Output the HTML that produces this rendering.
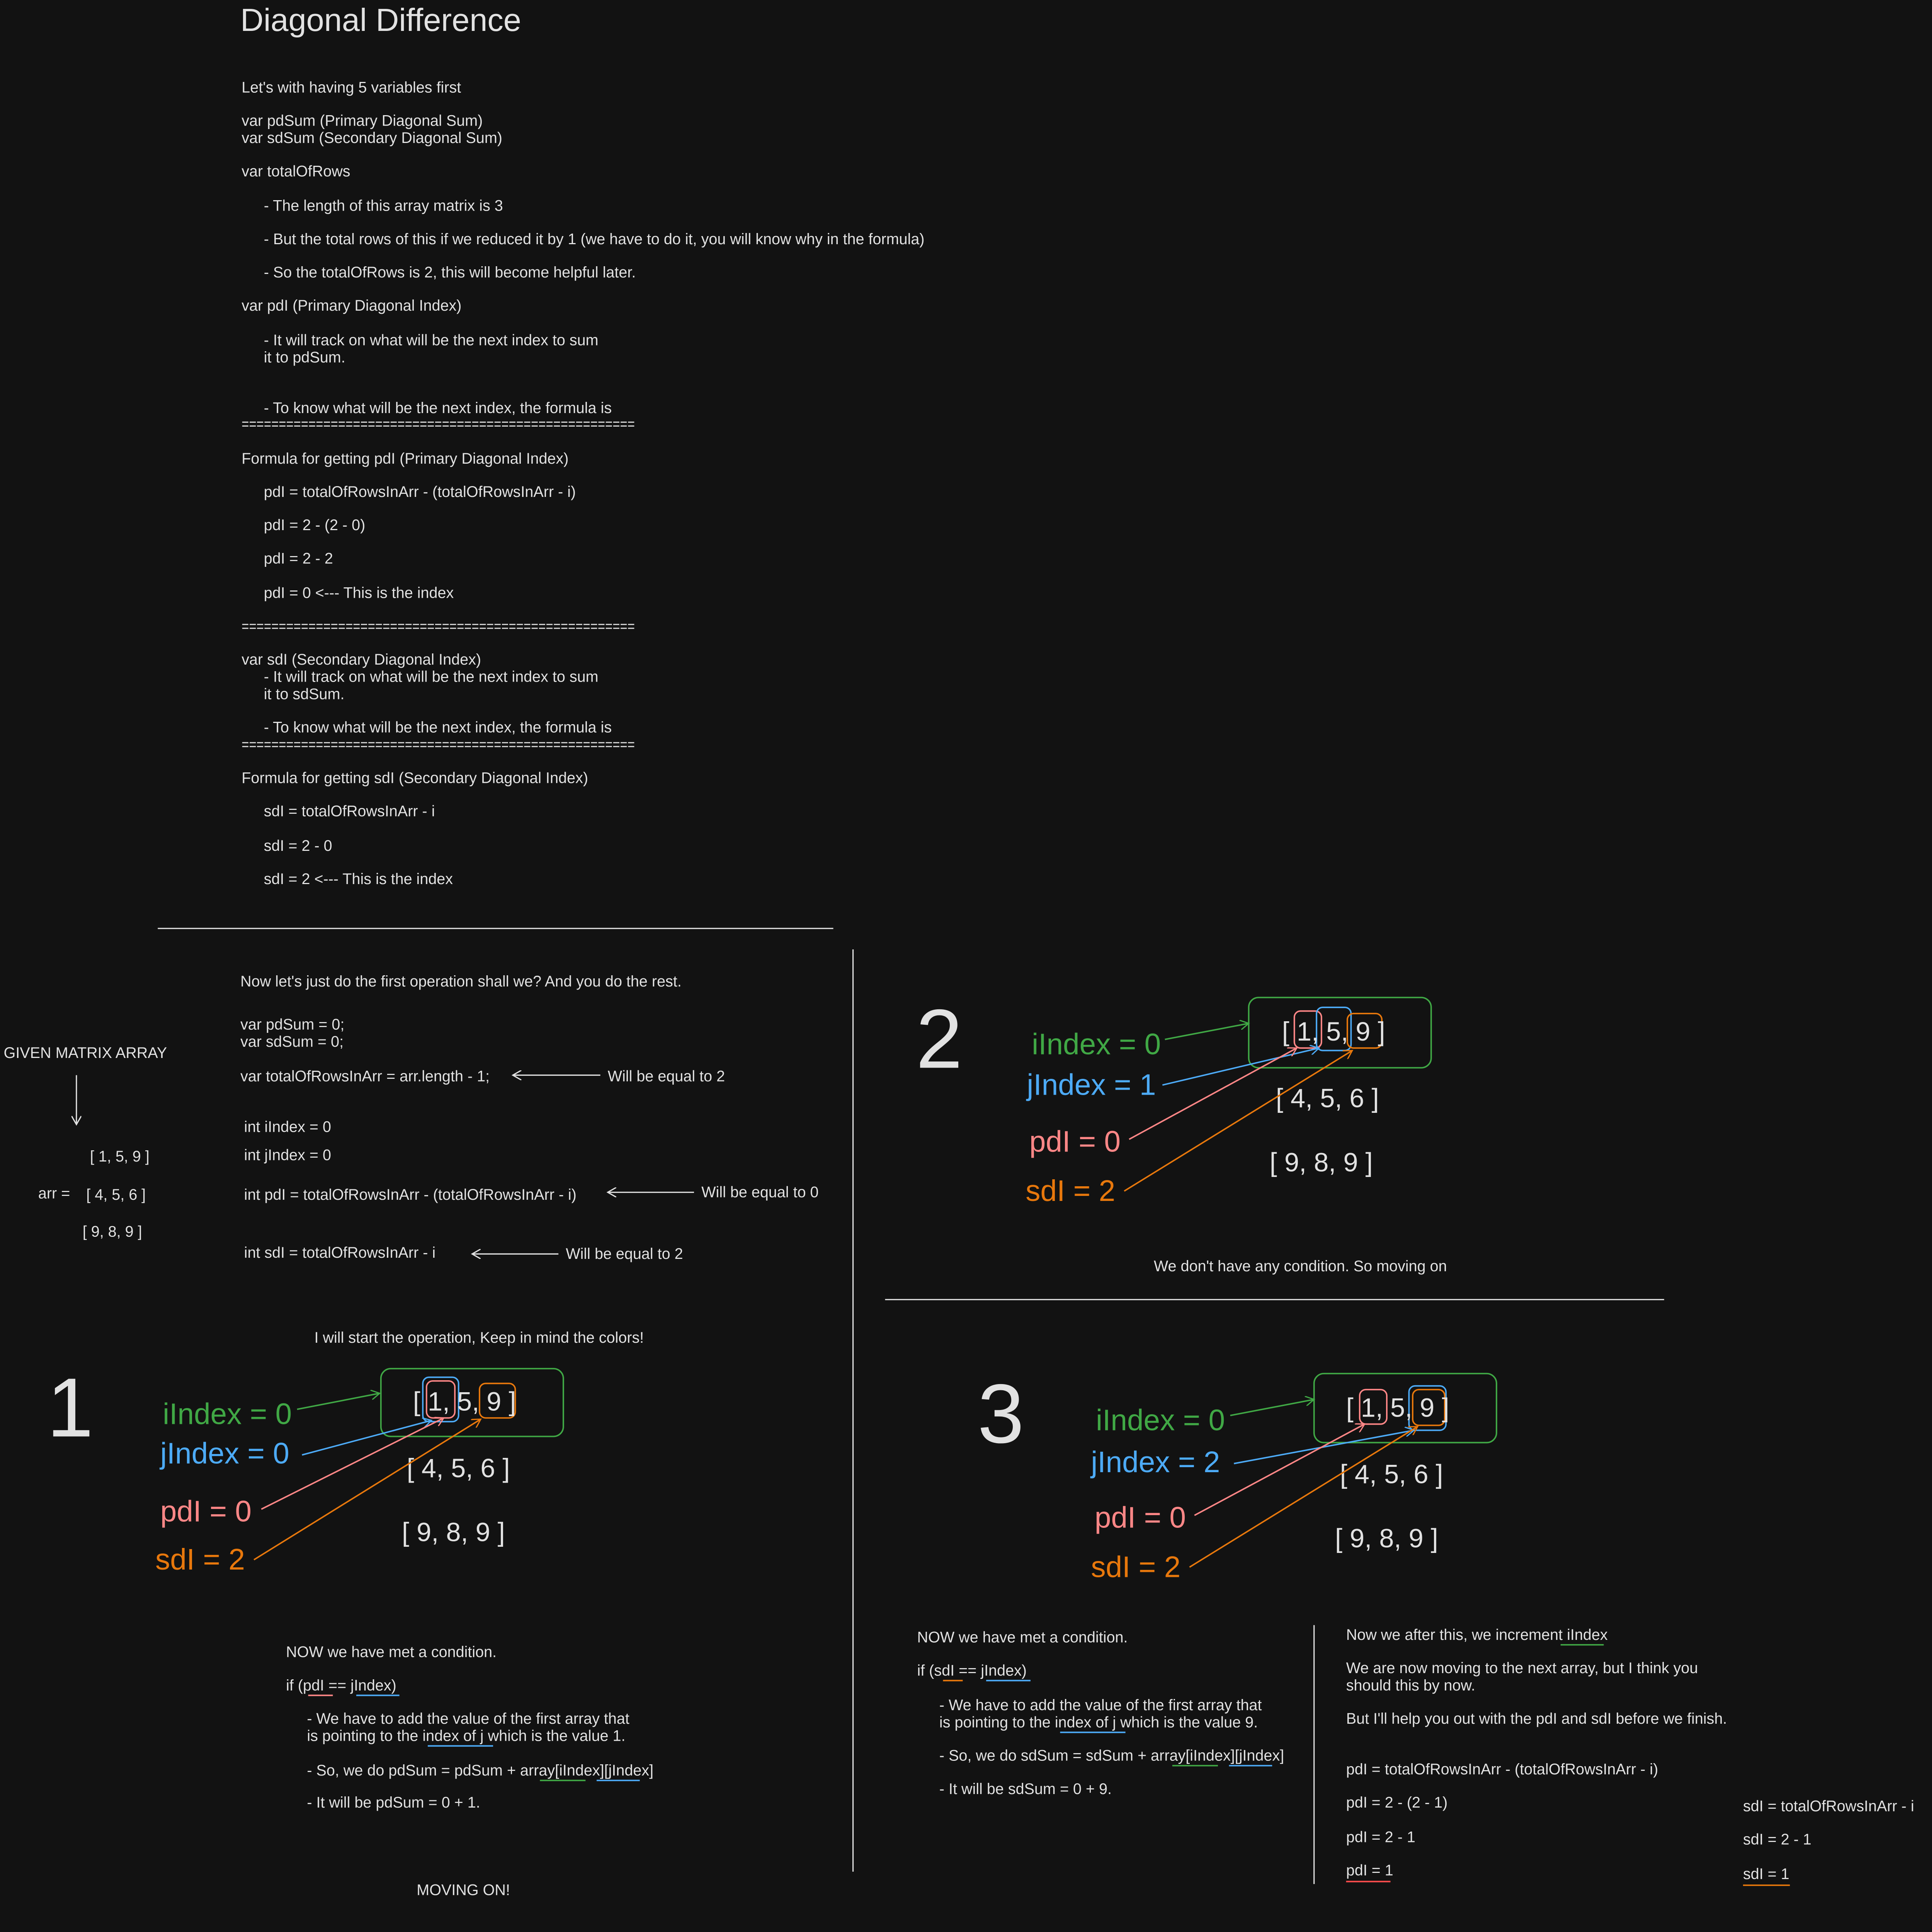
<!DOCTYPE html>
<html><head><meta charset="utf-8"><style>
html,body{margin:0;padding:0;background:#121212;overflow:hidden;width:5149px;height:5163px;}
svg{display:block;position:absolute;left:0;top:0}
text{font-family:"Liberation Sans",sans-serif;fill:#e2e2e2;}
.s{font-size:12.4px}
.b{font-size:24px}
.m{font-size:21.5px}
.g{fill:#40a845}.bl{fill:#4dabf7}.r{fill:#ff8787}.o{fill:#e8780c}
</style></head><body>
<svg width="5149" height="5163" viewBox="0 0 1614 1618" preserveAspectRatio="none" xmlns="http://www.w3.org/2000/svg">
<defs>
<marker id="aw" markerWidth="8" markerHeight="8" refX="7" refY="4" orient="auto" markerUnits="userSpaceOnUse"><path d="M0,0 L7,4 L0,8" fill="none" stroke="#e2e2e2" stroke-width="1"/></marker>
<marker id="ag" markerWidth="8" markerHeight="8" refX="7" refY="4" orient="auto" markerUnits="userSpaceOnUse"><path d="M0,0 L7,4 L0,8" fill="none" stroke="#40a845" stroke-width="1"/></marker>
<marker id="ab" markerWidth="8" markerHeight="8" refX="7" refY="4" orient="auto" markerUnits="userSpaceOnUse"><path d="M0,0 L7,4 L0,8" fill="none" stroke="#4dabf7" stroke-width="1"/></marker>
<marker id="ar" markerWidth="8" markerHeight="8" refX="7" refY="4" orient="auto" markerUnits="userSpaceOnUse"><path d="M0,0 L7,4 L0,8" fill="none" stroke="#ff8787" stroke-width="1"/></marker>
<marker id="ao" markerWidth="8" markerHeight="8" refX="7" refY="4" orient="auto" markerUnits="userSpaceOnUse"><path d="M0,0 L7,4 L0,8" fill="none" stroke="#e8780c" stroke-width="1"/></marker>
</defs>
<rect width="1614" height="1618" fill="#121212"/>
<text x="195" y="25" style="font-size:26px">Diagonal Difference</text>
<g class="s">
<text x="196" y="75">Let's with having 5 variables first</text>
<text x="196" y="102">var pdSum (Primary Diagonal Sum)</text>
<text x="196" y="116">var sdSum (Secondary Diagonal Sum)</text>
<text x="196" y="143">var totalOfRows</text>
<text x="214" y="171">- The length of this array matrix is 3</text>
<text x="214" y="198">- But the total rows of this if we reduced it by 1 (we have to do it, you will know why in the formula)</text>
<text x="214" y="225">- So the totalOfRows is 2, this will become helpful later.</text>
<text x="196" y="252">var pdI (Primary Diagonal Index)</text>
<text x="214" y="280">- It will track on what will be the next index to sum</text>
<text x="214" y="294">it to pdSum.</text>
<text x="214" y="335">- To know what will be the next index, the formula is</text>
<text x="196" y="348" textLength="319" lengthAdjust="spacingAndGlyphs">=====================================================</text>
<text x="196" y="376">Formula for getting pdI (Primary Diagonal Index)</text>
<text x="214" y="403">pdI = totalOfRowsInArr - (totalOfRowsInArr - i)</text>
<text x="214" y="430">pdI = 2 - (2 - 0)</text>
<text x="214" y="457">pdI = 2 - 2</text>
<text x="214" y="485">pdI = 0 &lt;--- This is the index</text>
<text x="196" y="512" textLength="319" lengthAdjust="spacingAndGlyphs">=====================================================</text>
<text x="196" y="539">var sdI (Secondary Diagonal Index)</text>
<text x="214" y="553">- It will track on what will be the next index to sum</text>
<text x="214" y="567">it to sdSum.</text>
<text x="214" y="594">- To know what will be the next index, the formula is</text>
<text x="196" y="608" textLength="319" lengthAdjust="spacingAndGlyphs">=====================================================</text>
<text x="196" y="635">Formula for getting sdI (Secondary Diagonal Index)</text>
<text x="214" y="662">sdI = totalOfRowsInArr - i</text>
<text x="214" y="690">sdI = 2 - 0</text>
<text x="214" y="717">sdI = 2 &lt;--- This is the index</text>

<text x="195" y="800">Now let's just do the first operation shall we? And you do the rest.</text>
<text x="195" y="835">var pdSum = 0;</text>
<text x="195" y="849">var sdSum = 0;</text>
<text x="195" y="877">var totalOfRowsInArr = arr.length - 1;</text>
<text x="493" y="877">Will be equal to 2</text>
<text x="198" y="918">int iIndex = 0</text>
<text x="198" y="941">int jIndex = 0</text>
<text x="198" y="973">int pdI = totalOfRowsInArr - (totalOfRowsInArr - i)</text>
<text x="569" y="971">Will be equal to 0</text>
<text x="198" y="1020">int sdI = totalOfRowsInArr - i</text>
<text x="459" y="1021">Will be equal to 2</text>
<text x="3" y="858">GIVEN MATRIX ARRAY</text>
<text x="73" y="942">[ 1, 5, 9 ]</text>
<text x="31" y="972">arr =</text>
<text x="70" y="973">[ 4, 5, 6 ]</text>
<text x="67" y="1003">[ 9, 8, 9 ]</text>
<text x="255" y="1089">I will start the operation, Keep in mind the colors!</text>

<text x="232" y="1344">NOW we have met a condition.</text>
<text x="232" y="1371">if (pdI == jIndex)</text>
<text x="249" y="1398">- We have to add the value of the first array that</text>
<text x="249" y="1412">is pointing to the index of j which is the value 1.</text>
<text x="249" y="1440">- So, we do pdSum = pdSum + array[iIndex][jIndex]</text>
<text x="249" y="1466">- It will be pdSum = 0 + 1.</text>
<text x="338" y="1537">MOVING ON!</text>

<text x="936" y="1031">We don't have any condition. So moving on</text>

<text x="744" y="1332">NOW we have met a condition.</text>
<text x="744" y="1359">if (sdI == jIndex)</text>
<text x="762" y="1387">- We have to add the value of the first array that</text>
<text x="762" y="1401">is pointing to the index of j which is the value 9.</text>
<text x="762" y="1428">- So, we do sdSum = sdSum + array[iIndex][jIndex]</text>
<text x="762" y="1455">- It will be sdSum = 0 + 9.</text>

<text x="1092" y="1330">Now we after this, we increment iIndex</text>
<text x="1092" y="1357">We are now moving to the next array, but I think you</text>
<text x="1092" y="1371">should this by now.</text>
<text x="1092" y="1398">But I'll help you out with the pdI and sdI before we finish.</text>
<text x="1092" y="1439">pdI = totalOfRowsInArr - (totalOfRowsInArr - i)</text>
<text x="1092" y="1466">pdI = 2 - (2 - 1)</text>
<text x="1092" y="1494">pdI = 2 - 1</text>
<text x="1092" y="1521">pdI = 1</text>
<text x="1414" y="1469">sdI = totalOfRowsInArr - i</text>
<text x="1414" y="1496">sdI = 2 - 1</text>
<text x="1414" y="1524">sdI = 1</text>
</g>

<g stroke="#e2e2e2" stroke-width="1" fill="none">
<line x1="128" y1="753" x2="676" y2="753"/>
<line x1="692" y1="770" x2="692" y2="1518"/>
<line x1="718" y1="1054" x2="1350" y2="1054"/>
<line x1="1066" y1="1318" x2="1066" y2="1528"/>
<line x1="487" y1="872" x2="416" y2="872" marker-end="url(#aw)"/>
<line x1="563" y1="967" x2="493" y2="967" marker-end="url(#aw)"/>
<line x1="453" y1="1017" x2="383" y2="1017" marker-end="url(#aw)"/>
<line x1="62" y1="872" x2="62" y2="912" marker-end="url(#aw)"/>
</g>

<g stroke-width="1.2" fill="none">
<line x1="250" y1="1375" x2="270" y2="1375" stroke="#ff8787"/>
<line x1="289" y1="1375" x2="324" y2="1375" stroke="#4dabf7"/>
<line x1="347" y1="1416" x2="400" y2="1416" stroke="#4dabf7"/>
<line x1="438" y1="1444" x2="475" y2="1444" stroke="#40a845"/>
<line x1="484" y1="1444" x2="519" y2="1444" stroke="#4dabf7"/>
<line x1="765" y1="1363" x2="781" y2="1363" stroke="#e8780c"/>
<line x1="800" y1="1363" x2="836" y2="1363" stroke="#4dabf7"/>
<line x1="860" y1="1405" x2="913" y2="1405" stroke="#4dabf7"/>
<line x1="951" y1="1432" x2="988" y2="1432" stroke="#40a845"/>
<line x1="997" y1="1432" x2="1032" y2="1432" stroke="#4dabf7"/>
<line x1="1266" y1="1334" x2="1301" y2="1334" stroke="#40a845"/>
<line x1="1092" y1="1526" x2="1128" y2="1526" stroke="#ff4d4d"/>
<line x1="1414" y1="1529" x2="1452" y2="1529" stroke="#e8780c"/>
</g>

<!-- Diagram 1 -->
<text x="38" y="1165" style="font-size:68px">1</text>
<rect x="309" y="1110" width="148" height="55" rx="8" fill="none" stroke="#40a845" stroke-width="1.2"/>
<rect x="343" y="1117" width="29" height="36" rx="5" fill="none" stroke="#4dabf7" stroke-width="1.2"/>
<rect x="346" y="1120" width="23" height="30" rx="5" fill="none" stroke="#ff8787" stroke-width="1.2"/>
<rect x="389" y="1122" width="29" height="28" rx="5" fill="none" stroke="#e8780c" stroke-width="1.2"/>
<text x="335" y="1144" class="m">[ 1, 5, 9 ]</text>
<text x="330" y="1198" class="m">[ 4, 5, 6 ]</text>
<text x="326" y="1250" class="m">[ 9, 8, 9 ]</text>
<text x="132" y="1155" class="b g">iIndex = 0</text>
<text x="130" y="1187" class="b bl">jIndex = 0</text>
<text x="130" y="1234" class="b r">pdI = 0</text>
<text x="126" y="1273" class="b o">sdI = 2</text>
<g fill="none" stroke-width="1.2">
<line x1="241" y1="1143" x2="308" y2="1130" stroke="#40a845" marker-end="url(#ag)"/>
<line x1="245" y1="1180" x2="350" y2="1152" stroke="#4dabf7" marker-end="url(#ab)"/>
<line x1="212" y1="1224" x2="360" y2="1150" stroke="#ff8787" marker-end="url(#ar)"/>
<line x1="206" y1="1265" x2="390" y2="1151" stroke="#e8780c" marker-end="url(#ao)"/>
</g>

<!-- Diagram 2 -->
<text x="743" y="866" style="font-size:68px">2</text>
<rect x="1013" y="809" width="148" height="57" rx="8" fill="none" stroke="#40a845" stroke-width="1.2"/>
<rect x="1050" y="820" width="22" height="30" rx="5" fill="none" stroke="#ff8787" stroke-width="1.2"/>
<rect x="1068" y="817" width="28" height="35" rx="5" fill="none" stroke="#4dabf7" stroke-width="1.2"/>
<rect x="1093" y="822" width="28" height="28" rx="5" fill="none" stroke="#e8780c" stroke-width="1.2"/>
<text x="1040" y="844" class="m">[ 1, 5, 9 ]</text>
<text x="1035" y="898" class="m">[ 4, 5, 6 ]</text>
<text x="1030" y="950" class="m">[ 9, 8, 9 ]</text>
<text x="837" y="855" class="b g">iIndex = 0</text>
<text x="833" y="888" class="b bl">jIndex = 1</text>
<text x="835" y="934" class="b r">pdI = 0</text>
<text x="832" y="974" class="b o">sdI = 2</text>
<g fill="none" stroke-width="1.2">
<line x1="945" y1="843" x2="1013" y2="830" stroke="#40a845" marker-end="url(#ag)"/>
<line x1="943" y1="880" x2="1070" y2="850" stroke="#4dabf7" marker-end="url(#ab)"/>
<line x1="916" y1="924" x2="1052" y2="850" stroke="#ff8787" marker-end="url(#ar)"/>
<line x1="912" y1="966" x2="1097" y2="852" stroke="#e8780c" marker-end="url(#ao)"/>
</g>

<!-- Diagram 3 -->
<text x="793" y="1170" style="font-size:68px">3</text>
<rect x="1066" y="1114" width="148" height="56" rx="8" fill="none" stroke="#40a845" stroke-width="1.2"/>
<rect x="1103" y="1127" width="22" height="28" rx="5" fill="none" stroke="#ff8787" stroke-width="1.2"/>
<rect x="1143" y="1124" width="30" height="36" rx="5" fill="none" stroke="#4dabf7" stroke-width="1.2"/>
<rect x="1146" y="1127" width="26" height="29" rx="5" fill="none" stroke="#e8780c" stroke-width="1.2"/>
<text x="1092" y="1149" class="m">[ 1, 5, 9 ]</text>
<text x="1087" y="1203" class="m">[ 4, 5, 6 ]</text>
<text x="1083" y="1255" class="m">[ 9, 8, 9 ]</text>
<text x="889" y="1160" class="b g">iIndex = 0</text>
<text x="885" y="1194" class="b bl">jIndex = 2</text>
<text x="888" y="1239" class="b r">pdI = 0</text>
<text x="885" y="1279" class="b o">sdI = 2</text>
<g fill="none" stroke-width="1.2">
<line x1="998" y1="1148" x2="1066" y2="1135" stroke="#40a845" marker-end="url(#ag)"/>
<line x1="1001" y1="1187" x2="1147" y2="1160" stroke="#4dabf7" marker-end="url(#ab)"/>
<line x1="969" y1="1229" x2="1107" y2="1155" stroke="#ff8787" marker-end="url(#ar)"/>
<line x1="965" y1="1271" x2="1150" y2="1157" stroke="#e8780c" marker-end="url(#ao)"/>
</g>
</svg>
</body></html>
